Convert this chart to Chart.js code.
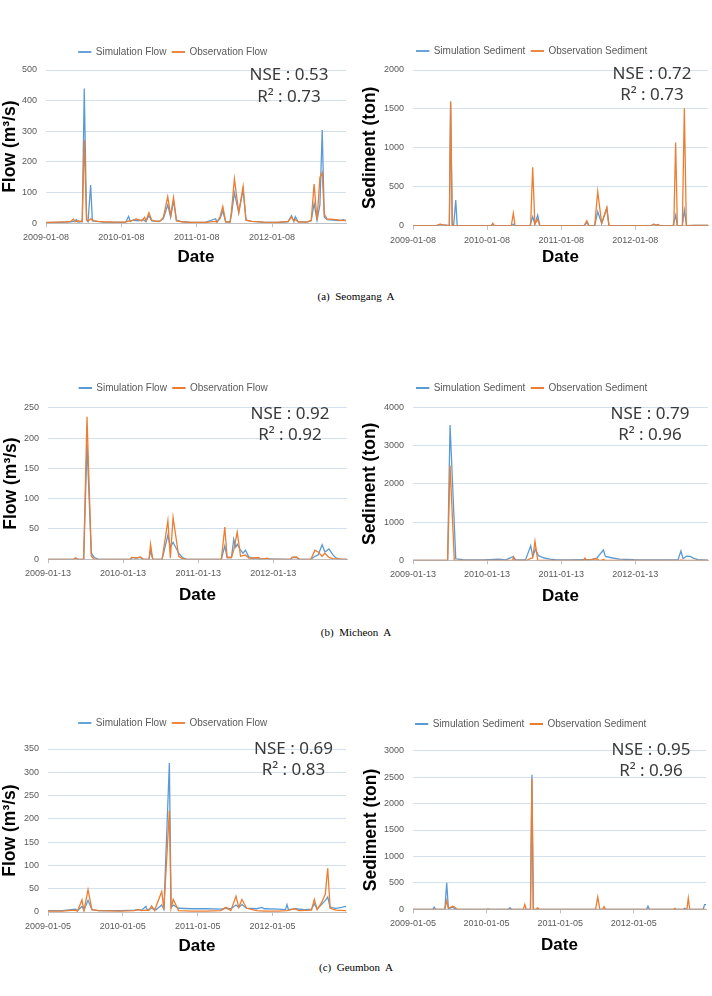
<!DOCTYPE html>
<html>
<head>
<meta charset="utf-8">
<script src="https://cdn.jsdelivr.net/npm/chart.js@4.4.1/dist/chart.umd.min.js"></script>
<style>
  html, body { margin: 0; padding: 0; background: #ffffff; }
  #page { position: relative; width: 712px; height: 996px; overflow: hidden; background: #fff; }
  canvas { position: absolute; }
  .stat { position: absolute; font-family: 'Noto Sans', 'DejaVu Sans', sans-serif; font-size: 17px; color: #3a3a3a;
          transform: translate(-50%, -50%); white-space: nowrap; line-height: 1; }
  .cap { position: absolute; font-family: 'Liberation Serif', 'DejaVu Serif', serif; font-size: 11px; color: #000;
         transform: translate(-50%, -50%); white-space: pre; line-height: 1; }
</style>
</head>
<body>
<div id="page"></div>
<script>
// ---------------- DATA (x = week index from first tick date, y = value) ----------------
const weekTicks = [0, 52, 104, 156];
const tickLabelsA = ['2009-01-08', '2010-01-08', '2011-01-08', '2012-01-08'];
const tickLabelsB = ['2009-01-13', '2010-01-13', '2011-01-13', '2012-01-13'];
const tickLabelsC = ['2009-01-05', '2010-01-05', '2011-01-05', '2012-01-05'];

// (a) Seomgang A - flow (m3/s)
const seomgangFlowSim = [[0,2],[8,3],[14,4],[17,5],[19,6],[21,12],[22,4],[25,5],[26.4,440],[28,10],[29,5],[30.8,125],[32,8],[35,6],[40,4],[48,3],[55,3],[57,22],[58,8],[60,10],[64,8],[67,12],[69,6],[71,25],[73,8],[78,6],[81,15],[84,60],[86,20],[88,75],[90,10],[94,5],[100,3],[110,3],[117,15],[118,4],[120,15],[122,40],[124,5],[127,4],[128,30],[130,100],[133,35],[136,110],[138,10],[142,6],[150,4],[160,3],[167,5],[169.4,25],[171,6],[172,22],[174,5],[180,4],[183,8],[185,65],[187,10],[189,60],[190.6,304],[192,20],[194,12],[200,10],[203,9],[205,12],[207,8]];
const seomgangFlowObs = [[0,3],[8,4],[14,5],[17,6],[19,14],[20,5],[22,8],[25,6],[26.4,272],[28,12],[29,7],[31,15],[33,8],[36,6],[40,5],[48,4],[55,4],[57,8],[58,6],[60,10],[62,14],[64,12],[66,8],[68,20],[69,8],[71,35],[73,10],[76,6],[79,8],[81,20],[84,87],[86,25],[88,84],[90,8],[94,5],[100,3],[110,3],[117,6],[118,4],[120,20],[122,55],[124,5],[127,4],[128,40],[130,145],[133,35],[136,120],[138,10],[142,6],[150,4],[160,3],[167,6],[169.4,20],[171,8],[172,12],[174,5],[180,4],[183,10],[185,128],[187,10],[189,150],[190.6,166],[192,30],[194,14],[200,12],[203,10],[205,9],[207,10]];
// (a) Seomgang A - sediment (ton)
const seomgangSedSim = [[0,0],[17,5],[19,15],[21,10],[24,5],[25.5,0],[26.4,1580],[27.5,20],[28.5,0],[30,330],[31,0],[55,0],[56,20],[57,0],[69,0],[70.4,20],[71.5,0],[82,0],[84,115],[85.5,20],[87.5,137],[89,0],[120,0],[122,40],[123.5,0],[127.5,0],[129.6,180],[132.4,30],[136,222],[137.5,0],[167,0],[169,20],[170.5,5],[172,15],[173,0],[182.5,0],[184.3,137],[185.5,0],[189,0],[190.4,200],[192,0],[198,5],[207,5]];
const seomgangSedObs = [[0,0],[17,5],[19,20],[21,10],[24,5],[25.5,0],[26.4,1600],[27.6,0],[55,0],[56,30],[57,0],[69,0],[70.4,160],[71.6,0],[82.5,0],[84,750],[85.5,20],[87.5,80],[89,0],[120,0],[122,64],[123.5,0],[127.5,0],[129.6,437],[132.4,30],[136,235],[137.5,0],[167,0],[169,20],[170.5,5],[172,15],[173,0],[183,0],[184.3,1070],[185.5,0],[189,0],[190.4,1508],[191.8,0],[198,5],[207,5]];

// (b) Micheon A - flow (m3/s)
const micheonFlowSim = [[0,0],[18,0],[19,2],[21,0],[24.7,0],[27,190],[30,10],[32,3],[35,0],[57,0],[58,3],[61,2],[64,3],[66,0],[70,0],[71,15],[72.5,0],[79,0],[83,40],[84.7,20],[86.6,28],[90.5,10],[93,3],[96,0],[120,0],[122.4,22],[124,3],[127,3],[128.6,33],[130,20],[131,25],[133.3,15],[135,10],[136.7,15],[139,4],[142,1],[168,0],[169,3],[172,3],[174,0],[182,0],[184.8,5],[187,7],[189.8,24],[191.7,12],[194.5,17],[197,8],[199,3],[202,0],[207,0]];
const micheonFlowObs = [[0,0],[18,0],[19,2],[21,0],[24.7,0],[27,235],[30,5],[32,0],[57,0],[58,3],[61,2],[64,4],[66,0],[70,0],[71,25],[72.5,0],[79,0],[83,64],[84.7,2],[86.6,69],[90.5,5],[93,1],[96,0],[120,0],[122.4,53],[124,3],[127,3],[128.6,15],[131,45],[133.3,5],[136.7,7],[139,2],[146,3],[147,0],[152,2],[153,0],[168,0],[169,3],[172,4],[174,0],[182,0],[184.8,15],[187,12],[189.8,5],[191.7,10],[194.5,3],[197,1],[207,0]];
// (b) Micheon A - sediment (ton)
const micheonSedSim = [[0,0],[24.3,0],[26,3538],[30,40],[35,15],[50,10],[60,30],[65,10],[70.4,95],[72,10],[79,10],[82.6,383],[84,100],[86,290],[88,120],[92,60],[96,30],[100,15],[110,10],[120.7,20],[125,20],[129,60],[131,150],[133.6,270],[135,100],[140,60],[145,30],[155,15],[170,10],[180,10],[186,20],[188,244],[189.5,40],[192,110],[194.5,100],[197,50],[200,15],[207,5]];
const micheonSedObs = [[0,0],[24.3,0],[26,2475],[29,0],[70,0],[70.4,80],[71.5,0],[80,0],[82.6,50],[84,60],[85.6,497],[87.5,0],[119.5,0],[120.7,60],[122,0],[129,40],[130.5,0],[132,0],[133.6,20],[135,0],[187,0],[188,10],[189,0],[207,0]];

// (c) Geumbon A - flow (m3/s)
const geumbonFlowSim = [[0,3],[10,3],[19,6],[20.5,3],[23.6,12],[25,4],[27.8,25],[30.5,5],[35,3],[50,3],[60,4],[63,5],[65,4],[68,12],[69,4],[72,8],[75,5],[79,15],[80.5,6],[84.3,320],[85.5,10],[87,15],[90.7,8],[100,7],[110,7],[120,6],[123.6,8],[127,7],[130.6,15],[132.5,10],[134.7,16],[138,8],[145,7],[148.6,10],[150,7],[160,6],[165,5],[166,16],[167,5],[172,7],[178,5],[183,6],[185,18],[187,6],[192.6,25],[194.3,32],[196,10],[200,8],[204,10],[206.5,12],[207,11]];
const geumbonFlowObs = [[0,2],[10,2],[19,4],[20.5,2],[23.6,26],[25,3],[27.8,48],[30.5,5],[35,3],[50,2],[60,3],[63,5],[65,3],[68,4],[70,3],[72,13],[74,3],[79,44],[80.5,5],[84.3,218],[85.5,8],[87,27],[90.7,3],[100,2],[110,2],[120,3],[123.6,10],[127,3],[130.6,34],[132.5,10],[134.7,27],[138,8],[145,3],[150,2],[160,2],[166,3],[171.8,7],[174,3],[183,4],[185,27],[187,5],[190,20],[192.6,38],[194.3,94],[196,8],[200,4],[207,3]];
// (c) Geumbon A - sediment (ton)
const geumbonSedSim = [[0,0],[14,0],[15,40],[16,0],[22.5,0],[23.8,500],[25,20],[26,20],[28,40],[30,0],[52,0],[53,5],[54,0],[67.5,0],[68.5,30],[69.5,0],[83,0],[84,2545],[85,0],[165,0],[166,60],[167,0],[191,0],[192,20],[193,0],[205,0],[206,90],[207,90]];
const geumbonSedObs = [[0,0],[22.5,0],[23.8,165],[25,20],[28,60],[29.5,40],[31,0],[78,0],[79,90],[80,0],[83,0],[84,2480],[85,0],[87,0],[88,30],[89,0],[129,0],[130.5,234],[132,0],[134,0],[135,50],[136,0],[184,0],[185,20],[186,0],[193.5,0],[194.5,215],[195.5,0],[207,0]];

const nseValues = ['0.53', '0.72', '0.92', '0.79', '0.69', '0.95'];
const r2Values  = ['0.73', '0.73', '0.92', '0.96', '0.83', '0.96'];
const captions = ['(a)  Seomgang  A', '(b)  Micheon  A', '(c)  Geumbon  A'];

// ---------------- LAYOUT ----------------
const panels = [
  { sim: seomgangFlowSim, obs: seomgangFlowObs, kind: 'Flow', yTitle: 'Flow (m\u00B3/s)', yMax: 500, yStep: 100, labels: tickLabelsA,
    box: { cx: 0, legendY: 52, top: 70, bottom: 223.3, left: 46, right: 346, dateY: 258, yTitleX: 10, statX: 289, nseY: 73, r2Y: 95 } },
  { sim: seomgangSedSim, obs: seomgangSedObs, kind: 'Sediment', yTitle: 'Sediment (ton)', yMax: 2000, yStep: 500, labels: tickLabelsA,
    box: { cx: 356, legendY: 51, top: 70, bottom: 225.7, left: 413, right: 708, dateY: 258, yTitleX: 370.5, statX: 652, nseY: 72, r2Y: 93 } },
  { sim: micheonFlowSim, obs: micheonFlowObs, kind: 'Flow', yTitle: 'Flow (m\u00B3/s)', yMax: 250, yStep: 50, labels: tickLabelsB,
    box: { cx: 0, legendY: 388, top: 407.7, bottom: 559.3, left: 48, right: 347, dateY: 596, yTitleX: 11, statX: 290, nseY: 411.7, r2Y: 433 } },
  { sim: micheonSedSim, obs: micheonSedObs, kind: 'Sediment', yTitle: 'Sediment (ton)', yMax: 4000, yStep: 1000, labels: tickLabelsB,
    box: { cx: 356, legendY: 387.7, top: 407, bottom: 560, left: 413, right: 708, dateY: 596.7, yTitleX: 370, statX: 650, nseY: 412, r2Y: 433 } },
  { sim: geumbonFlowSim, obs: geumbonFlowObs, kind: 'Flow', yTitle: 'Flow (m\u00B3/s)', yMax: 350, yStep: 50, labels: tickLabelsC,
    box: { cx: 0, legendY: 723, top: 749, bottom: 912, left: 48, right: 346, dateY: 947, yTitleX: 10, statX: 293.5, nseY: 747.3, r2Y: 768 } },
  { sim: geumbonSedSim, obs: geumbonSedObs, kind: 'Sediment', yTitle: 'Sediment (ton)', yMax: 3000, yStep: 500, labels: tickLabelsC,
    box: { cx: 356, legendY: 724, top: 750.7, bottom: 909.3, left: 413, right: 706, dateY: 946, yTitleX: 371, statX: 651, nseY: 748, r2Y: 769 } }
];
const captionY = [296, 632, 967];

const BLUE = '#5B9BD5', ORANGE = '#ED7D31';
const TICK_FONT = { family: "'Liberation Sans', Arial, sans-serif", size: 9 };
const TITLE_FONT_SIZE = 17.5;

const fixLegend = {
  id: 'fixLegend',
  beforeUpdate(chart) {
    const lg = chart.legend;
    if (lg && !lg._fixedH) {
      const orig = lg.fit;
      lg.fit = function () { orig.call(this); this.height = chart.$legendH; };
      lg._fixedH = true;
    }
  }
};

const page = document.getElementById('page');
const W = 356;

panels.forEach((p, idx) => {
  const b = p.box;
  const cy = b.legendY - 21;
  const h = Math.round(b.dateY + 12.2 - cy);
  const canvas = document.createElement('canvas');
  canvas.width = W; canvas.height = h;
  canvas.style.left = b.cx + 'px'; canvas.style.top = cy + 'px';
  canvas.style.width = W + 'px'; canvas.style.height = h + 'px';
  page.appendChild(canvas);

  const legendH = b.top - cy - 10;
  const xAxisH = (cy + h) - b.bottom;
  const yAxisW = b.left - b.cx;
  const padRight = b.cx + W - b.right;
  const yTitlePad = b.yTitleX - b.cx - TITLE_FONT_SIZE * 1.2 / 2;

  const chart = new Chart(canvas, {
    type: 'line',
    data: {
      datasets: [
        { label: 'Simulation ' + p.kind, data: p.sim, borderColor: BLUE, backgroundColor: BLUE, borderWidth: 1.3,
          pointRadius: 0, tension: 0, order: 1 },
        { label: 'Observation ' + p.kind, data: p.obs, borderColor: ORANGE, backgroundColor: ORANGE, borderWidth: 1.3,
          pointRadius: 0, tension: 0, order: 0 }
      ]
    },
    options: {
      responsive: false,
      animation: false,
      devicePixelRatio: 1,
      layout: { padding: { top: 10, left: 0, right: padRight, bottom: 0 } },
      plugins: {
        legend: {
          display: true, position: 'top', align: 'center',
          labels: {
            boxWidth: 12, boxHeight: 0.5, padding: 6, color: '#595959',
            font: { family: "'Liberation Sans', Arial, sans-serif", size: 10 },
            sort: (a, c) => a.datasetIndex - c.datasetIndex
          }
        },
        tooltip: { enabled: false }
      },
      scales: {
        x: {
          type: 'linear', min: 0, max: 207,
          afterBuildTicks: (s) => { s.ticks = weekTicks.map(v => ({ value: v })); },
          afterFit: (s) => { s.height = xAxisH; },
          ticks: {
            autoSkip: false, maxRotation: 0, padding: 5, color: '#595959', font: TICK_FONT,
            callback: (v) => { const i = weekTicks.indexOf(v); return i >= 0 ? p.labels[i] : ''; }
          },
          grid: { drawOnChartArea: false, drawTicks: true, tickLength: 4, color: '#BFBFBF' },
          border: { display: true, color: '#BFBFBF', width: 1 },
          title: { display: true, text: 'Date', color: '#000',
                   font: { family: "'Liberation Sans', Arial, sans-serif", size: 17, weight: 'bold' },
                   padding: { top: 0, bottom: 2 } }
        },
        y: {
          min: 0, max: p.yMax,
          afterFit: (s) => { s.width = yAxisW; },
          ticks: { stepSize: p.yStep, padding: 9, color: '#595959', font: TICK_FONT,
                   callback: (v) => String(v) },
          grid: { color: '#D3E1EF', lineWidth: 1, drawTicks: false },
          border: { display: false },
          title: { display: true, text: p.yTitle, color: '#000',
                   font: { family: "'Liberation Sans', Arial, sans-serif", size: TITLE_FONT_SIZE, weight: 'bold' },
                   padding: { top: yTitlePad, bottom: 0 } }
        }
      }
    },
    plugins: [fixLegend]
  });
  chart.$legendH = legendH;
  chart.update();

  const nse = document.createElement('div');
  nse.className = 'stat';
  nse.textContent = 'NSE : ' + nseValues[idx];
  nse.style.left = b.statX + 'px'; nse.style.top = b.nseY + 'px';
  page.appendChild(nse);
  const r2 = document.createElement('div');
  r2.className = 'stat';
  r2.textContent = 'R\u00B2 : ' + r2Values[idx];
  r2.style.left = b.statX + 'px'; r2.style.top = b.r2Y + 'px';
  page.appendChild(r2);
});

captions.forEach((c, i) => {
  const d = document.createElement('div');
  d.className = 'cap';
  d.textContent = c;
  d.style.left = '356px'; d.style.top = captionY[i] + 'px';
  page.appendChild(d);
});
</script>
</body>
</html>
